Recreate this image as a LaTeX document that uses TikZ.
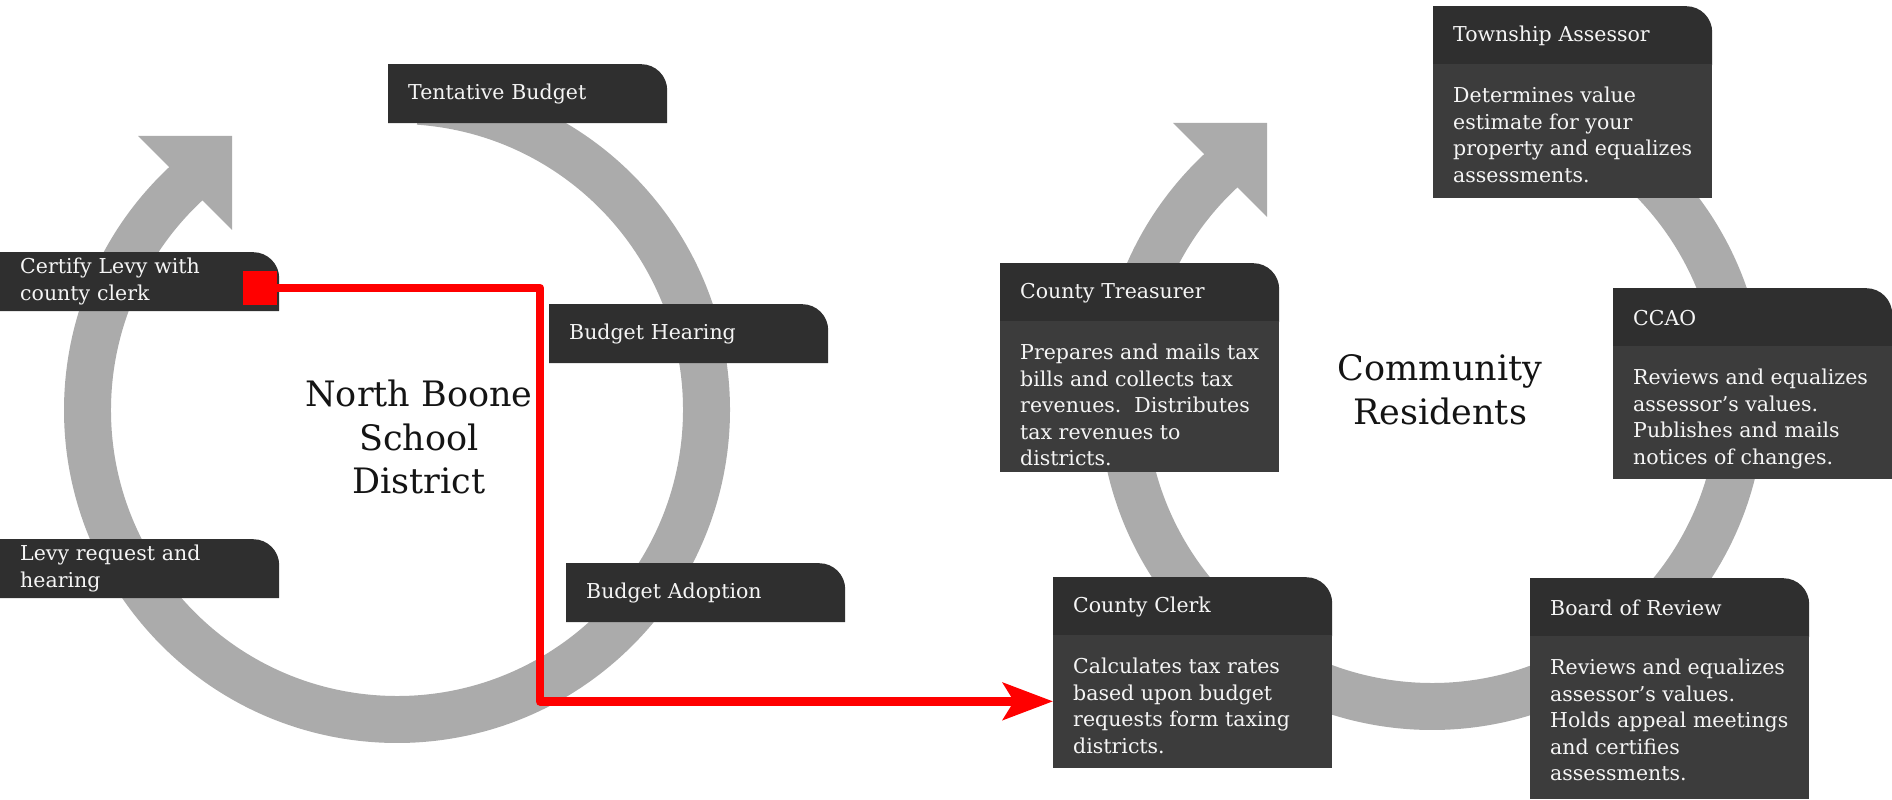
\documentclass[tikz,border=0pt]{standalone}
\usepackage{fontspec}
\setmainfont{DejaVu Serif}
\usetikzlibrary{arrows.meta,calc}
\definecolor{ringcol}{HTML}{ABABAB}
\definecolor{hdrcol}{HTML}{2F2F2F}
\definecolor{bodycol}{HTML}{3C3C3C}
\definecolor{txtcol}{HTML}{F5F5F5}
\definecolor{redcol}{HTML}{FF0000}
\newcommand{\firststrut}{\rule{0pt}{20pt}}
\begin{document}
\begin{tikzpicture}[x=1pt,y=1pt,
  tab/.style={anchor=north west, minimum width=279pt, minimum height=59pt,
    text width=239pt, inner xsep=20pt, inner ysep=0pt, align=left, text=txtcol,
    font=\fontsize{20.5}{26.5}\selectfont,
    path picture={\fill[hdrcol] (path picture bounding box.south west) -- (path picture bounding box.north west)
      -- ([xshift=-26pt]path picture bounding box.north east) arc[start angle=90,end angle=0,radius=26pt]
      -- (path picture bounding box.south east) -- cycle;}},
  bodybox/.style={anchor=north west, minimum width=279pt, inner sep=0pt, fill=bodycol, yshift=1.5pt},
  bodytext/.style={anchor=north west, inner sep=0pt, align=left, text=txtcol,
    font=\fontsize{20.5}{26.5}\selectfont},
  bigtext/.style={align=center, font=\fontsize{35}{43.5}\selectfont, text=black!92},
  ringpic/.pic={
    \fill[ringcol] (86:286) arc[start angle=86, end angle=-228, radius=286]
      -- (-228:333) arc[start angle=-228, end angle=86, radius=333] -- cycle;
    \fill[ringcol] (-259,274) -- (-165,274) -- (-165,180) -- cycle;
  },
  redline/.style={redcol, line width=8.5pt, line join=round}
]
\useasboundingbox (0,0) rectangle (1892,800);

% rings
\pic at (397,390) {ringpic};
\pic at (1432,403) {ringpic};

% left cycle labels
\node[tab] (tent) at (388,736) {Tentative Budget};
\node[tab] (hear) at (549,496) {Budget Hearing};
\node[tab] (adopt) at (566,237) {Budget Adoption};
\node[tab] (cert) at (0,548) {Certify Levy with\\county clerk};
\node[tab] (levy) at (0,261) {Levy request and\\hearing};

\node[bigtext] (nbsd) at (419,363) {North Boone\\School\\District};
\node[bigtext] (comm) at (1440,410) {Community\\Residents};

% right cycle boxes
\node[tab] (town) at (1433,794) {Township Assessor};
\node[bodybox, minimum height=133.5pt] (townbody) at (town.south west) {};
\node[bodytext] (towntext) at ($(townbody.north west)+(20,-18.5)$)
  {\firststrut Determines value\\estimate for your\\property and equalizes\\assessments.};

\node[tab] (treas) at (1000,537) {County Treasurer};
\node[bodybox, minimum height=150.5pt] (treasbody) at (treas.south west) {};
\node[bodytext] (treastext) at ($(treasbody.north west)+(20,-18.5)$)
  {\firststrut Prepares and mails tax\\bills and collects tax\\revenues.\ \ Distributes\\tax revenues to\\districts.};

\node[tab] (ccao) at (1613,512) {CCAO};
\node[bodybox, minimum height=132.5pt] (ccaobody) at (ccao.south west) {};
\node[bodytext] (ccaotext) at ($(ccaobody.north west)+(20,-18.5)$)
  {\firststrut Reviews and equalizes\\assessor’s values.\\Publishes and mails\\notices of changes.};

\node[tab] (clerk) at (1053,223) {County Clerk};
\node[bodybox, minimum height=132.5pt] (clerkbody) at (clerk.south west) {};
\node[bodytext] (clerktext) at ($(clerkbody.north west)+(20,-18.5)$)
  {\firststrut Calculates tax rates\\based upon budget\\requests form taxing\\districts.};

\node[tab] (board) at (1530,222) {Board of Review};
\node[bodybox, minimum height=162.5pt] (boardbody) at (board.south west) {};
\node[bodytext] (boardtext) at ($(boardbody.north west)+(20,-18.5)$)
  {\firststrut Reviews and equalizes\\assessor’s values.\\Holds appeal meetings\\and certifies\\assessments.};

% red connector
\node[fill=redcol, minimum size=34pt, inner sep=0pt] (sq) at (260,512) {};
\coordinate (bend) at (540,512);
\draw[redline, -{Stealth[length=50pt,width=37pt,inset=11pt]}] (sq.east) -- (bend) |- (clerkbody.west);
\end{tikzpicture}
\end{document}
